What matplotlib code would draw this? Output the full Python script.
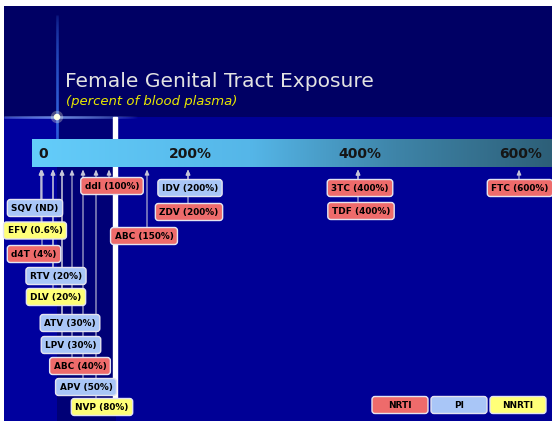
import numpy as np
import matplotlib
matplotlib.use("Agg")
import matplotlib.pyplot as plt
from matplotlib.patches import FancyBboxPatch, Rectangle

# ---------------- data ----------------
drugs = ["SQV", "EFV", "d4T", "RTV", "DLV", "ATV", "LPV", "ABC", "APV", "NVP",
         "ddI", "ABC", "IDV", "ZDV", "3TC", "TDF", "FTC"]
exposure_pct = [None, 0.6, 4, 20, 20, 30, 30, 40, 50, 80,
                100, 150, 200, 200, 400, 400, 600]          # None = not detected
drug_class = ["PI", "NNRTI", "NRTI", "PI", "NNRTI", "PI", "PI", "NRTI", "PI", "NNRTI",
              "NRTI", "NRTI", "PI", "NRTI", "NRTI", "NRTI", "NRTI"]
scale_ticks = [0, 200, 400, 600]
scale_tick_labels = ["0", "200%", "400%", "600%"]
legend_classes = ["NRTI", "PI", "NNRTI"]
title = "Female Genital Tract Exposure"
subtitle = "(percent of blood plasma)"

# ---------------- layout / style ----------------
W, H = 552, 421
# schematic (non-linear) scale of the exposure bar: value -> pixel anchors
scale_val = [-52, 0, 4, 20, 30, 40, 50, 80, 100, 150, 200, 400, 600, 642]
scale_px = [0, 41, 42, 53, 62, 72, 83, 96, 109, 147, 188, 358, 519, 552]
# label box centres (pixels, y from top)
box_xy = [(35, 208), (35, 230.5), (34, 254), (56, 276), (56, 297), (70, 323),
          (71, 345), (80, 366), (86, 387), (102, 407), (112, 186), (144, 236),
          (190, 188), (189, 212), (360, 188), (361, 211), (520, 188)]
box_h = 17
class_fc = {"NRTI": "#ee6b6b", "PI": "#a9c6f7", "NNRTI": "#ffff78"}
edge_c = "#e4e4f0"
font = "DejaVu Sans"

fig = plt.figure(figsize=(W / 100, H / 100), dpi=100)

# background axes in pixel coordinates
bg = fig.add_axes([0, 0, 1, 1])
bg.set_xlim(0, W)
bg.set_ylim(H, 0)
bg.axis("off")

img = np.zeros((H, W, 3))
img[:, :] = np.array([0, 0, 100]) / 255
img[117:, 116:] = np.array([0, 0, 150]) / 255
img[117:, :57] = np.array([0, 0, 158]) / 255
img[117:, 57:116] = np.array([0, 0, 118]) / 255
img[:6, :] = 1.0
img[:, :4] = 1.0
bg.imshow(img, extent=[0, W, H, 0], aspect="auto", interpolation="nearest", zorder=0)

# lens flare
xs = np.linspace(4, 150, 220)
for i in range(len(xs) - 1):
    a = max(0, 1 - abs(xs[i] - 57) / 80) ** 0.8
    bg.plot(xs[i:i + 2], [117, 117], color=(0.55, 0.7, 1.0), alpha=a, lw=1.8, zorder=1,
            solid_capstyle="butt")
ys = np.linspace(15, 150, 220)
for i in range(len(ys) - 1):
    a = max(0, 1 - abs(ys[i] - 117) / 105) ** 0.5
    bg.plot([57, 57], ys[i:i + 2], color=(0.25, 0.5, 1.0), alpha=a, lw=1.8, zorder=1,
            solid_capstyle="butt")
bg.scatter([57], [117], s=22, color="#ffffe8", zorder=2, edgecolors="none")
bg.scatter([57], [117], s=80, color="#ffffe0", alpha=0.3, zorder=2, edgecolors="none")

# white vertical line
bg.add_patch(Rectangle((113, 117), 3.5, 283, color="white", zorder=1))

# gradient bar
bx0, bx1, by0, by1 = 32, 552, 139, 167
stops_x = [0.0, 0.42, 0.7, 1.0]
stops_c = np.array([[100, 205, 250], [85, 182, 232], [62, 132, 168], [45, 95, 120]]) / 255
gx = np.linspace(0, 1, 400)
grad = np.stack([np.interp(gx, stops_x, stops_c[:, k]) for k in range(3)], axis=-1)
bg.imshow(grad[None, :, :], extent=[bx0, bx1, by1, by0], aspect="auto", zorder=2)

# title
bg.text(65, 87, title, color="#e2e2e2", fontsize=14.6, family=font,
        va="baseline", ha="left", zorder=3)
bg.text(66, 105, subtitle, color="#e8e800", fontsize=9.5, style="italic",
        family=font, va="baseline", ha="left", zorder=3)

# data axes with schematic scale
fwd = lambda v: np.interp(v, scale_val, scale_px)
inv = lambda p: np.interp(p, scale_px, scale_val)
ax = fig.add_axes([0, 0, 1, 1], zorder=2)
ax.set_xscale("function", functions=(fwd, inv))
ax.set_xlim(scale_val[0], scale_val[-1])
ax.set_ylim(H, 0)
ax.patch.set_alpha(0)
ax.axis("off")

for t, lab in zip(scale_ticks, scale_tick_labels):
    ax.annotate(lab, (t, 154), xytext=(2.0, 0), textcoords="offset pixels",
                ha="center", va="center", fontsize=10, fontweight="bold",
                color="#151515", family=font, zorder=5)

renderer = fig.canvas.get_renderer()

def label_box(cx, cy, txt, fc, width=None):
    t = ax.text(cx, cy + 0.5, txt, transform=bg.transData, ha="center", va="center",
                fontsize=6.4, fontweight="bold", color="black", family=font,
                zorder=7)
    if width is None:
        width = t.get_window_extent(renderer).width + 8
    ax.add_patch(FancyBboxPatch((cx - width / 2, cy - box_h / 2), width, box_h,
                                boxstyle="round,pad=0,rounding_size=3",
                                transform=bg.transData, fc=fc, ec=edge_c, lw=1.0,
                                zorder=6))

tip_y = 169.5
for name, val, cls, (cx, cy) in zip(drugs, exposure_pct, drug_class, box_xy):
    v = 0 if val is None else val
    top = cy - box_h / 2
    ax.annotate("", xy=(v, tip_y), xytext=(v, top),
                arrowprops=dict(arrowstyle="-|>,head_length=0.3,head_width=0.13",
                                color="#c4c4d8", lw=0.8, shrinkA=0, shrinkB=0),
                zorder=3)
    txt = f"{name} (ND)" if val is None else f"{name} ({val:g}%)"
    label_box(cx, cy, txt, class_fc[cls])

# legend
leg_x = [400, 459, 518]
for cls, lx in zip(legend_classes, leg_x):
    label_box(lx, 405, cls, class_fc[cls], width=56)

fig.savefig("out.png", dpi=100)
